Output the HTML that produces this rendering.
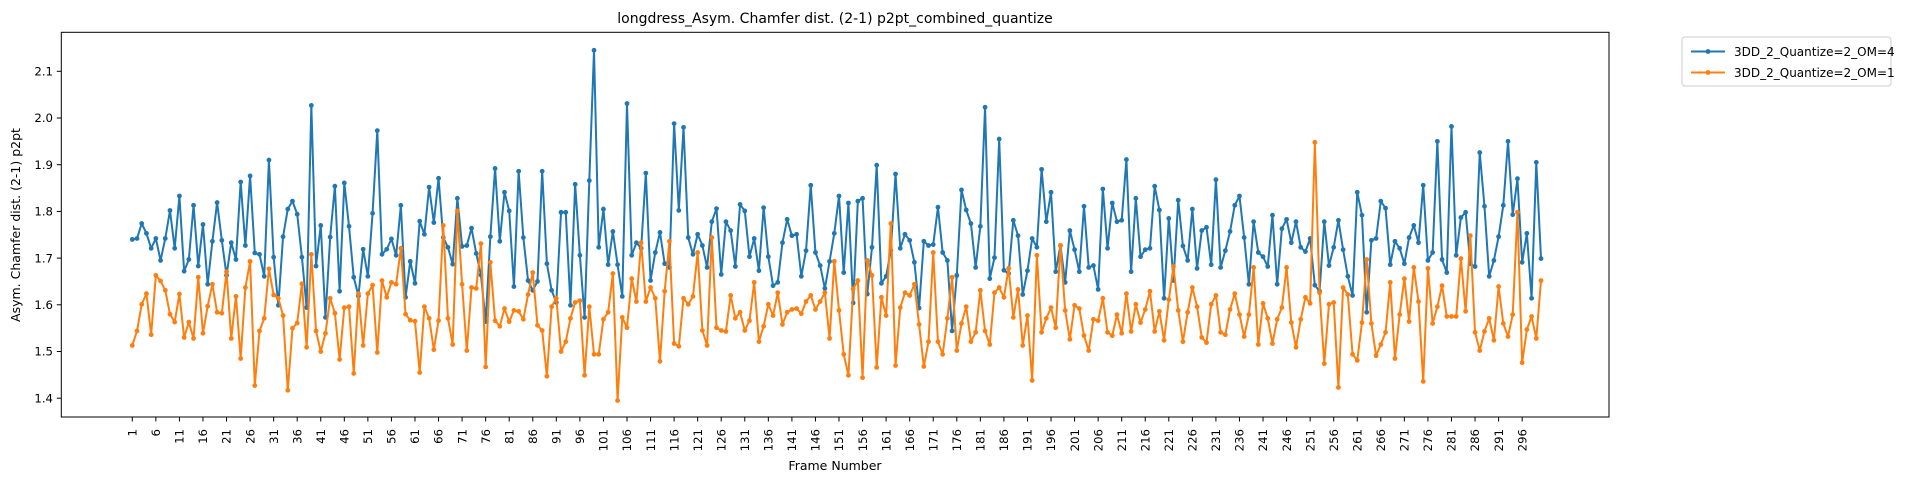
<!DOCTYPE html>
<html><head><meta charset="utf-8">
<style>
html,body{margin:0;padding:0;background:#fff;}
svg{display:block;font-family:"DejaVu Sans","Liberation Sans",sans-serif;}
</style></head>
<body>
<svg id="chart" width="1926" height="483" viewBox="0 0 1926 483" xmlns="http://www.w3.org/2000/svg">
<rect x="0" y="0" width="1926" height="483" fill="#fff"/>
<text x="835" y="23" text-anchor="middle" font-size="14" fill="#000">longdress_Asym. Chamfer dist. (2-1) p2pt_combined_quantize</text>
<g id="grid"></g>
<g id="series"></g>
<rect x="61.3" y="32.3" width="1547.7" height="384.7" fill="none" stroke="#000" stroke-width="1"/>
<g id="yticks"></g>
<g id="xticks"></g>
<text x="0" y="0" transform="translate(20,225) rotate(-90)" text-anchor="middle" font-size="12.5" fill="#000">Asym. Chamfer dist. (2-1) p2pt</text>
<text x="835" y="470" text-anchor="middle" font-size="12.5" fill="#000">Frame Number</text>
<g>
<rect x="1682" y="37" width="209" height="49" rx="3" fill="#fff" stroke="#ccc"/>
<g>
<line x1="1691" y1="51.5" x2="1725" y2="51.5" stroke="#1f77b4" stroke-width="2"/>
<circle cx="1708" cy="51.5" r="2.4" fill="#1f77b4"/>
<text x="1734" y="56" font-size="12" fill="#000">3DD_2_Quantize=2_OM=4</text>
</g>
<g>
<line x1="1691" y1="72.5" x2="1725" y2="72.5" stroke="#ff7f0e" stroke-width="2"/>
<circle cx="1708" cy="72.5" r="2.4" fill="#ff7f0e"/>
<text x="1734" y="77" font-size="12" fill="#000">3DD_2_Quantize=2_OM=1</text>
</g>
</g>
</svg>
<script>
const seriesOM4 = [
1.740,1.742,1.774,1.753,1.721,1.742,1.695,1.742,1.802,1.721,1.833,1.672,1.697,1.813,1.683,1.772,1.644,1.736,1.819,1.738,1.663,1.733,1.697,1.863,1.727,1.876,1.711,1.708,1.661,1.910,1.702,1.599,1.746,1.805,1.822,1.794,1.702,
1.594,2.027,1.683,1.770,1.573,1.745,1.854,1.629,1.861,1.768,1.659,1.619,1.719,1.661,1.796,1.973,1.708,1.719,1.741,1.706,1.813,1.616,1.693,1.646,1.779,1.751,1.852,1.776,1.871,1.744,1.723,1.687,1.828,1.725,1.727,1.764,1.710,
1.664,1.564,1.746,1.892,1.736,1.841,1.801,1.639,1.886,1.744,1.652,1.631,1.650,1.886,1.688,1.631,1.605,1.798,1.798,1.599,1.858,1.706,1.573,1.866,2.145,1.723,1.805,1.686,1.757,1.686,1.618,2.031,1.706,1.733,1.721,1.882,1.652,
1.712,1.755,1.688,1.680,1.988,1.802,1.980,1.744,1.708,1.751,1.727,1.680,1.778,1.806,1.665,1.778,1.759,1.682,1.815,1.801,1.703,1.742,1.673,1.808,1.703,1.641,1.648,1.733,1.783,1.748,1.751,1.661,1.716,1.856,1.712,1.684,1.635,
1.693,1.753,1.833,1.669,1.818,1.604,1.822,1.828,1.623,1.723,1.899,1.646,1.661,1.716,1.880,1.721,1.751,1.738,1.691,1.593,1.736,1.727,1.729,1.809,1.712,1.695,1.544,1.663,1.846,1.803,1.774,1.680,1.768,2.023,1.656,1.701,1.955,
1.674,1.667,1.781,1.748,1.622,1.673,1.742,1.723,1.890,1.778,1.841,1.671,1.727,1.648,1.759,1.718,1.671,1.811,1.680,1.684,1.633,1.848,1.721,1.818,1.778,1.781,1.911,1.671,1.828,1.703,1.718,1.721,1.854,1.803,1.614,1.785,1.652,1.824,1.726,
1.695,1.805,1.678,1.759,1.766,1.686,1.868,1.680,1.716,1.757,1.813,1.833,1.744,1.644,1.778,1.712,1.703,1.682,1.792,1.644,1.763,1.783,1.733,1.778,1.723,1.714,1.742,1.642,1.629,1.778,1.684,1.723,1.781,1.718,1.661,1.620,1.841,1.792,
1.584,1.738,1.742,1.822,1.807,1.686,1.736,1.721,1.688,1.744,1.770,1.733,1.856,1.695,1.712,1.950,1.697,1.669,1.982,1.706,1.787,1.798,1.688,1.682,1.926,1.811,1.661,1.695,1.746,1.813,1.950,1.793,1.870,1.691,1.753,1.614,1.905,1.699
];
const seriesOM1 = [
1.513,1.544,1.601,1.624,1.536,1.663,1.651,1.631,1.580,1.563,1.623,1.530,1.563,1.528,1.659,1.539,1.597,1.644,1.584,1.582,1.671,1.528,1.618,1.485,1.637,1.693,1.427,1.544,1.571,1.677,1.621,1.614,1.577,1.417,1.550,1.561,1.645,
1.509,1.708,1.544,1.500,1.539,1.614,1.582,1.483,1.594,1.596,1.453,1.624,1.513,1.624,1.642,1.498,1.652,1.616,1.648,1.644,1.721,1.580,1.567,1.565,1.455,1.596,1.571,1.504,1.566,1.770,1.571,1.515,1.801,1.644,1.502,1.637,1.635,
1.731,1.467,1.691,1.566,1.554,1.592,1.564,1.588,1.586,1.569,1.622,1.669,1.556,1.545,1.447,1.596,1.614,1.500,1.521,1.571,1.605,1.609,1.449,1.596,1.494,1.494,1.569,1.584,1.667,1.395,1.573,1.551,1.656,1.607,1.733,1.607,1.637,
1.614,1.479,1.629,1.736,1.517,1.511,1.614,1.601,1.618,1.712,1.545,1.513,1.744,1.551,1.545,1.543,1.620,1.571,1.584,1.545,1.566,1.648,1.521,1.554,1.601,1.577,1.626,1.558,1.584,1.590,1.592,1.581,1.607,1.620,1.590,1.607,1.626,
1.528,1.693,1.588,1.494,1.449,1.634,1.652,1.444,1.695,1.663,1.466,1.616,1.577,1.774,1.470,1.594,1.626,1.620,1.644,1.558,1.468,1.521,1.712,1.521,1.494,1.571,1.659,1.502,1.560,1.596,1.521,1.541,1.631,1.544,1.515,1.626,1.637,
1.616,1.678,1.573,1.633,1.513,1.577,1.438,1.706,1.541,1.571,1.594,1.551,1.727,1.588,1.526,1.599,1.592,1.534,1.502,1.569,1.566,1.614,1.541,1.534,1.579,1.539,1.624,1.543,1.601,1.562,1.590,1.629,1.543,1.586,1.524,1.611,1.682,1.588,1.521,
1.584,1.637,1.596,1.530,1.519,1.601,1.620,1.541,1.536,1.590,1.624,1.579,1.532,1.579,1.680,1.515,1.603,1.571,1.517,1.569,1.594,1.680,1.562,1.509,1.569,1.616,1.603,1.948,1.626,1.474,1.601,1.605,1.423,1.637,1.622,1.494,1.481,1.562,
1.697,1.560,1.491,1.515,1.541,1.648,1.485,1.579,1.656,1.564,1.680,1.607,1.436,1.678,1.560,1.596,1.641,1.575,1.575,1.575,1.699,1.586,1.748,1.541,1.502,1.543,1.571,1.524,1.639,1.560,1.532,1.579,1.798,1.476,1.547,1.575,1.528,1.652
];
const yTickValues = [1.4,1.5,1.6,1.7,1.8,1.9,2.0,2.1];
const xTickStep = 5;

const NS = "http://www.w3.org/2000/svg";
const nFrames = seriesOM4.length;
function xScale(f){ return 132.3 + (f-1)*(1541-132.3)/(nFrames-1); }
function yScale(v){ return 71.3 + (2.1 - v)*467; }
function mk(tag, attrs, parent){
  const e = document.createElementNS(NS, tag);
  for (const k in attrs) e.setAttribute(k, attrs[k]);
  parent.appendChild(e);
  return e;
}
const yG = document.getElementById('yticks');
yTickValues.forEach(v=>{
  const y = yScale(v);
  const t = mk('line',{x1:56.8,x2:61.3,y1:y,y2:y,stroke:'#000','stroke-width':1},yG);
  
  
  const l = mk('text',{x:53,y:y+4.2,'text-anchor':'end','font-size':'11.7',fill:'#000'},yG);
  l.textContent = v.toFixed(1);
  
  
});
const xG = document.getElementById('xticks');
for (let f=1; f<=nFrames; f+=xTickStep){
  const x = xScale(f);
  const t = mk('line',{x1:x,x2:x,y1:417,y2:421.5,stroke:'#000','stroke-width':1},xG);
  
  
  const l = mk('text',{x:0,y:0,transform:`translate(${x+4.2},429) rotate(-90)`,'text-anchor':'end','font-size':'11.7',fill:'#000'},xG);
  l.textContent = String(f);
  
  
}
const sG = document.getElementById('series');
function drawSeries(data, color, name){
  const g = mk('g',{},sG);
  
  
  const pts = data.map((v,i)=>xScale(i+1).toFixed(2)+','+yScale(v).toFixed(2)).join(' ');
  const pl = mk('polyline',{points:pts,fill:'none',stroke:color,'stroke-width':2,'stroke-linejoin':'round'},g);
  
  
  data.forEach((v,i)=>{
    const c = mk('circle',{cx:xScale(i+1),cy:yScale(v),r:2.4,fill:color},g);
    
    
  });
}
drawSeries(seriesOM4,'#1f77b4','series-om4');
drawSeries(seriesOM1,'#ff7f0e','series-om1');
</script>
</body></html>
